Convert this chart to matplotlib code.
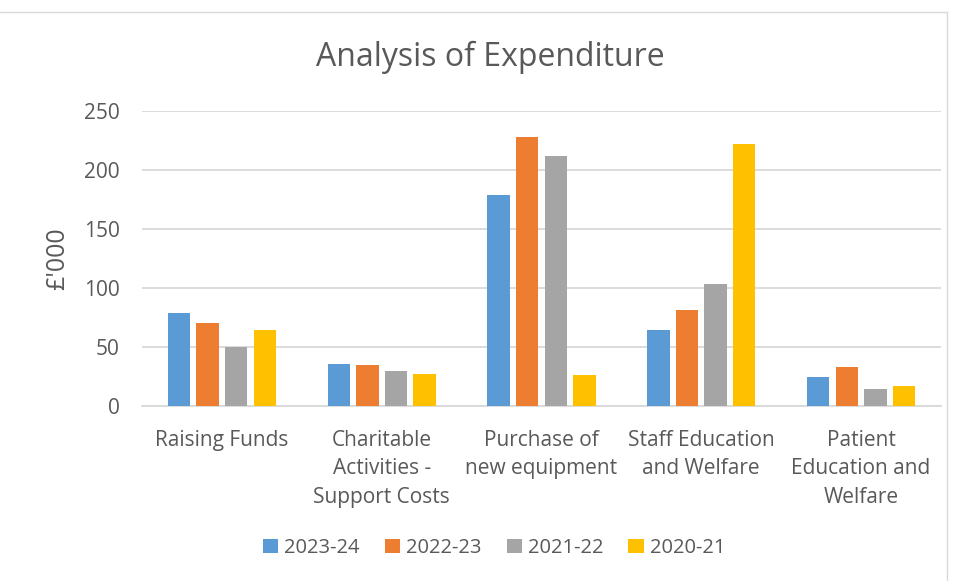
import numpy as np
import matplotlib
matplotlib.use("Agg")
import matplotlib.pyplot as plt
from matplotlib.lines import Line2D

categories = ["Raising Funds", "Charitable\nActivities -\nSupport Costs", "Purchase of\nnew equipment",
              "Staff Education\nand Welfare", "Patient\nEducation and\nWelfare"]
years = ["2023-24", "2022-23", "2021-22", "2020-21"]
v_2023_24 = [79, 36, 179, 64, 25]
v_2022_23 = [70, 35, 228, 81, 33]
v_2021_22 = [50, 30, 212, 103, 14]
v_2020_21 = [64, 27, 26, 222, 17]
colors = ["#5b9bd5", "#ed7d31", "#a5a5a5", "#ffc000"]

TXT = "#595959"
plt.rcParams["font.family"] = ["Open Sans", "DejaVu Sans"]

fig = plt.figure(figsize=(9.57, 5.81), dpi=100)
ax = fig.add_axes([142 / 957, 1 - 406 / 581, (941 - 142) / 957, (406 - 111) / 581])

x = np.arange(len(categories))
pitch = 0.179
w = 0.141
series = [v_2023_24, v_2022_23, v_2021_22, v_2020_21]
for i, (vals, c, lab) in enumerate(zip(series, colors, years)):
    ax.bar(x + (i - 1.5) * pitch, vals, w, color=c, label=lab, zorder=3)

ax.set_xlim(-0.5, len(categories) - 0.5)
ax.set_ylim(0, 250)
ax.set_yticks(range(0, 251, 50))
ax.yaxis.grid(True, color="#d9d9d9", linewidth=1.3, zorder=0)
for s in ["top", "right", "left"]:
    ax.spines[s].set_visible(False)
ax.spines["bottom"].set_color("#d9d9d9")
ax.spines["bottom"].set_linewidth(1.3)
ax.tick_params(length=0, labelsize=15, colors=TXT)
ax.tick_params(axis="y", pad=16)
ax.set_xticks(x)
ax.set_xticklabels(categories, linespacing=1.48, va="top")
ax.tick_params(axis="x", pad=17)
ax.set_ylabel("£'000", fontsize=18, color=TXT, labelpad=10)

fig.suptitle("Analysis of Expenditure", fontsize=23, color=TXT, x=490 / 957, y=1 - 57 / 581, va="center")

ax.legend(loc="center", bbox_to_anchor=(494 / 957, 1 - 548 / 581), bbox_transform=fig.transFigure,
          ncol=4, frameon=False, fontsize=14.5, labelcolor=TXT, handlelength=0.75, handleheight=0.75,
          handletextpad=0.3, columnspacing=1.25)

# chart border (top and right edges visible)
fig.add_artist(Line2D([0, 947 / 957], [1 - 12 / 581, 1 - 12 / 581], transform=fig.transFigure, color="#d9d9d9", lw=1))
fig.add_artist(Line2D([947 / 957, 947 / 957], [0, 1 - 12 / 581], transform=fig.transFigure, color="#d9d9d9", lw=1))

fig.savefig("out.png", dpi=100)
